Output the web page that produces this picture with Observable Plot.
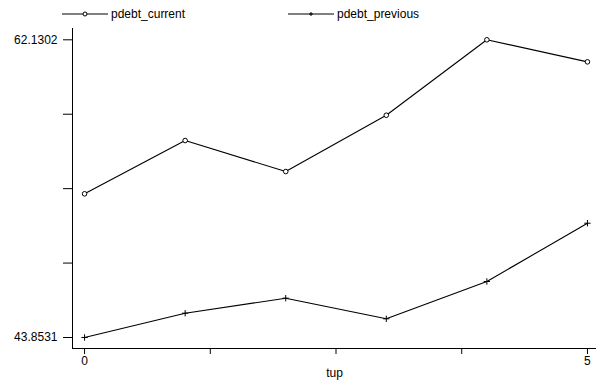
<!DOCTYPE html>
<html>
<head>
<meta charset="utf-8">
<script src="https://cdn.jsdelivr.net/npm/d3@7"></script>
<script src="https://cdn.jsdelivr.net/npm/@observablehq/plot@0.6"></script>
<style>
  body { margin: 0; background: #fff; font-family: "Liberation Sans", Arial, sans-serif; }
  #wrap { position: relative; width: 608px; height: 387px; }
  #legend { position: absolute; left: 0; top: 0; width: 608px; height: 28px; }
  .item { position: absolute; top: 7px; display: flex; align-items: center; font-size: 12px; color: #000; }
  .item svg { margin-right: 3px; }
</style>
</head>
<body>
<div id="wrap">
  <div id="chart"></div>
  <div id="legend"></div>
</div>
<script>
const tup = [0, 1, 2, 3, 4, 5];
const pdebt_current = [52.675, 55.946, 54.043, 57.499, 62.1302, 60.777];
const pdebt_previous = [43.8531, 45.345, 46.266, 45.001, 47.291, 50.870];
const seriesNames = ["pdebt_current", "pdebt_previous"];
const yTicks = [43.8531, 48.42238, 52.99165, 57.56093, 62.1302];
const yTickLabels = ["43.8531", "", "", "", "62.1302"];
const xTicks = [0, 1.25, 2.5, 3.75, 5];
const xTickLabels = ["0", "", "", "", "5"];
const xTitle = "tup";

const rows = [];
tup.forEach((t, i) => {
  rows.push({tup: t, value: pdebt_current[i], series: seriesNames[0]});
  rows.push({tup: t, value: pdebt_previous[i], series: seriesNames[1]});
});
const cur = rows.filter(d => d.series === seriesNames[0]);
const prev = rows.filter(d => d.series === seriesNames[1]);

const xDomain = [-0.12, 5.09];
const yDomain = [43.178, 62.824];

const chart = Plot.plot({
  width: 608,
  height: 387,
  marginLeft: 72,
  marginRight: 12,
  marginTop: 28,
  marginBottom: 39,
  style: {fontFamily: "'Liberation Sans', Arial, sans-serif", fontSize: "12px", color: "#000", background: "#fff"},
  x: {domain: xDomain},
  y: {domain: yDomain},
  marks: [
    Plot.axisY({ticks: yTicks, tickSize: 9, tickPadding: 6, tickFormat: (d, i) => yTickLabels[i], label: null, fontSize: 12}),
    Plot.axisX({ticks: xTicks, tickSize: 6, tickPadding: 2, tickFormat: (d, i) => xTickLabels[i], label: null, fontSize: 12}),
    Plot.ruleX([xDomain[0]], {stroke: "#000"}),
    Plot.ruleY([yDomain[0]], {stroke: "#000"}),
    Plot.text([xTitle], {frameAnchor: "bottom", dy: 28, fontSize: 12, fill: "#000"}),
    Plot.line(cur, {x: "tup", y: "value", stroke: "#000", strokeWidth: 1.1}),
    Plot.line(prev, {x: "tup", y: "value", stroke: "#000", strokeWidth: 1.1}),
    Plot.dot(cur, {x: "tup", y: "value", symbol: "circle", r: 2.3, stroke: "#000", fill: "#fff", strokeWidth: 1}),
    Plot.dot(prev, {x: "tup", y: "value", symbol: "plus", r: 2.2, stroke: "#000", strokeWidth: 1})
  ]
});
document.getElementById("chart").append(chart);

// legend
const legend = d3.select("#legend");
const lefts = [62, 288];
seriesNames.forEach((name, i) => {
  const item = legend.append("div").attr("class", "item").style("left", lefts[i] + "px");
  const s = item.append("svg").attr("width", 46).attr("height", 12);
  s.append("line").attr("x1", 0).attr("x2", 46).attr("y1", 6).attr("y2", 6).attr("stroke", "#000").attr("stroke-width", 1);
  if (i === 0) {
    s.append("circle").attr("cx", 23).attr("cy", 6).attr("r", 2).attr("fill", "#fff").attr("stroke", "#000");
  } else {
    s.append("path").attr("d", "M21,6H25M23,4V8").attr("stroke", "#000");
  }
  item.append("span").text(name);
});
</script>
</body>
</html>
